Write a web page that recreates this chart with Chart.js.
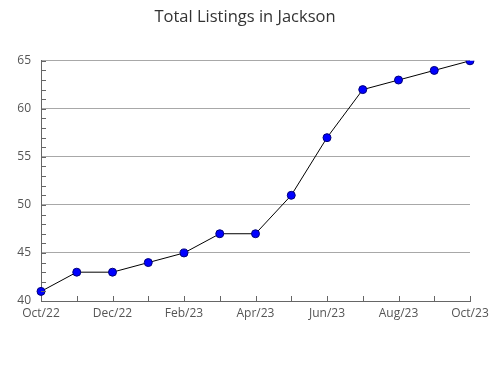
<!DOCTYPE html>
<html>
<head>
<meta charset="utf-8">
<script src="https://cdn.jsdelivr.net/npm/chart.js@4/dist/chart.umd.min.js"></script>
<style>
  body { margin: 0; background: #fff; }
  canvas { display: block; }
</style>
</head>
<body>
<canvas id="chart" width="490" height="380"></canvas>
<script>
// Total listings per month
const months = ["Oct/22", "Nov/22", "Dec/22", "Jan/23", "Feb/23", "Mar/23", "Apr/23",
  "May/23", "Jun/23", "Jul/23", "Aug/23", "Sep/23", "Oct/23"];
const listings = [41, 43, 43, 44, 45, 47, 47, 51, 57, 62, 63, 64, 65];
const yMin = 40, yMax = 65, yMajor = 5;

// small inward tick marks on both axes
const innerTicks = {
  id: "innerTicks",
  afterDatasetsDraw(chart) {
    const { ctx, chartArea: a, scales } = chart;
    ctx.save();
    ctx.strokeStyle = "#666";
    ctx.lineWidth = 1;
    ctx.beginPath();
    scales.y.ticks.forEach((t) => {
      const y = Math.round(scales.y.getPixelForValue(t.value)) + 0.5;
      ctx.moveTo(a.left, y); ctx.lineTo(a.left + 5, y);
    });
    scales.x.ticks.forEach((t, i) => {
      const x = Math.round(scales.x.getPixelForTick(i)) + 0.5;
      ctx.moveTo(x, a.bottom); ctx.lineTo(x, a.bottom - 5);
    });
    ctx.stroke();
    ctx.restore();
  },
};

new Chart(document.getElementById("chart"), {
  type: "line",
  data: {
    labels: months,
    datasets: [{
      data: listings,
      borderColor: "#000",
      borderWidth: 1,
      tension: 0,
      pointRadius: 4,
      pointHoverRadius: 4,
      pointBackgroundColor: "#0000ff",
      pointBorderColor: "#00007a",
      pointBorderWidth: 1,
    }],
  },
  options: {
    responsive: false,
    animation: false,
    layout: { padding: 0 },
    plugins: {
      legend: { display: false },
      tooltip: { enabled: false },
      title: {
        display: true,
        text: "Total Listings in Jackson",
        color: "#333",
        font: { family: "'Open Sans'", size: 16.5, weight: "normal" },
        padding: { top: 7, bottom: 34 },
      },
    },
    scales: {
      x: {
        afterFit: (s) => { s.height = 79; s.paddingLeft = 0; s.paddingRight = 20; },
        grid: { drawOnChartArea: false, drawTicks: false },
        border: { color: "#666" },
        ticks: {
          autoSkip: false,
          maxRotation: 0,
          padding: 5,
          color: "#555",
          font: { family: "'Open Sans'", size: 12 },
          callback: (v, i) => (i % 2 === 0 ? months[i] : ""),
        },
      },
      y: {
        min: yMin,
        max: yMax,
        afterFit: (s) => { s.width = 41; },
        grid: {
          drawTicks: false,
          color: (c) => (c.tick && c.tick.value % yMajor === 0 ? "#a8a8a8" : "rgba(0,0,0,0)"),
        },
        border: { color: "#666" },
        ticks: {
          stepSize: 1,
          autoSkip: false,
          padding: 10,
          color: "#555",
          font: { family: "'Open Sans'", size: 12 },
          callback: (v) => (v % yMajor === 0 ? v : ""),
        },
      },
    },
  },
  plugins: [innerTicks],
});
</script>
</body>
</html>
